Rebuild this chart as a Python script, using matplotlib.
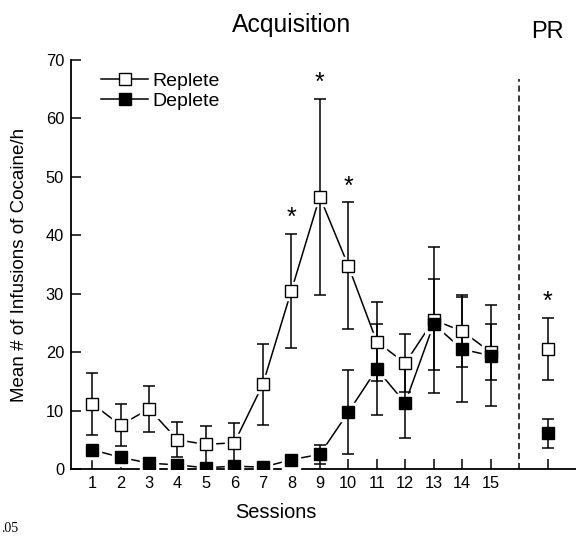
import matplotlib
matplotlib.use("Agg")
import matplotlib.pyplot as plt
import numpy as np
from matplotlib.lines import Line2D

plt.rcParams['font.family'] = ['Liberation Sans', 'DejaVu Sans']

sessions = list(range(1, 16))
session_labels = [str(s) for s in sessions]
replete_mean = [11.2, 7.5, 10.3, 5.0, 4.2, 4.5, 14.5, 30.5, 46.6, 34.8, 21.8, 18.1, 25.5, 23.6, 20.0]
replete_sem = [5.3, 3.6, 3.9, 3.0, 3.2, 3.4, 6.9, 9.8, 16.8, 10.9, 6.7, 5.0, 12.5, 6.1, 4.8]
deplete_mean = [3.3, 2.0, 1.0, 0.7, 0.2, 0.5, 0.3, 1.6, 2.5, 9.7, 17.1, 11.3, 24.8, 20.5, 19.4]
deplete_sem = [0.5, 0.4, 0.3, 0.3, 0.2, 0.3, 0.7, 0.5, 1.6, 7.2, 7.8, 6.0, 7.8, 9.0, 8.6]
pr_pos = 17
pr_replete_mean, pr_replete_sem = 20.6, 5.3
pr_deplete_mean, pr_deplete_sem = 6.1, 2.45
star_sessions = [8, 9, 10]
divider_pos = 16
yticks = [0, 10, 20, 30, 40, 50, 60, 70]

fig = plt.figure(figsize=(5.76, 5.37), dpi=100)
ax = fig.add_axes([71/576, 68/537, 505/576, 409/537])

ms = 8.4
lw = 1.1

# connecting lines
ax.plot(sessions, replete_mean, color='black', lw=lw, zorder=2)
ax.plot(sessions, deplete_mean, color='black', lw=lw, zorder=2)
# white halos to create small gaps between lines and markers
for xs, ys in [(sessions, replete_mean), (sessions, deplete_mean)]:
    ax.plot(xs, ys, ls='none', marker='s', ms=ms + 4.5, mfc='white', mec='white', zorder=3)

# error bars
for xs, ys, es in [(sessions, replete_mean, replete_sem),
                   (sessions, deplete_mean, deplete_sem),
                   ([pr_pos], [pr_replete_mean], [pr_replete_sem]),
                   ([pr_pos], [pr_deplete_mean], [pr_deplete_sem])]:
    ax.errorbar(xs, ys, yerr=es, fmt='none', ecolor='black',
                elinewidth=lw, capsize=4.3, capthick=lw, zorder=4)

# markers
ax.plot(sessions, replete_mean, ls='none', marker='s', ms=ms, mfc='white', mec='black',
        mew=1.0, zorder=5)
ax.plot([pr_pos], [pr_replete_mean], ls='none', marker='s', ms=ms, mfc='white', mec='black',
        mew=1.0, zorder=5)
ax.plot(sessions, deplete_mean, ls='none', marker='s', ms=ms, mfc='black', mec='black',
        mew=1.0, zorder=6)
ax.plot([pr_pos], [pr_deplete_mean], ls='none', marker='s', ms=ms, mfc='black', mec='black',
        mew=1.0, zorder=6)

# legend
h1 = Line2D([], [], color='black', lw=lw, marker='s', ms=ms, mfc='white', mec='black')
h2 = Line2D([], [], color='black', lw=lw, marker='s', ms=ms, mfc='black', mec='black')
leg = ax.legend([h1, h2], ['Replete', 'Deplete'], loc='upper left',
                bbox_to_anchor=(0.035, 1.0), frameon=False, fontsize=14,
                handlelength=2.4, handletextpad=0.25, labelspacing=0.1, borderpad=0.15)

# significance stars
for s in star_sessions:
    i = sessions.index(s)
    ax.text(s, replete_mean[i] + replete_sem[i] + 0.6, '*', ha='center', va='bottom',
            fontsize=18)
ax.text(pr_pos, pr_replete_mean + pr_replete_sem + 0.6, '*', ha='center', va='bottom',
        fontsize=18)

# divider
ax.plot([divider_pos, divider_pos], [0, 66.7], ls=(0, (4, 2.5)), color='black', lw=1.1,
        clip_on=False)

ax.set_xlim(0.26, 18.0)
ax.set_ylim(0, 70)
ax.set_xticks(sessions + [pr_pos])
ax.set_xticklabels(session_labels + [''])
ax.set_yticks(yticks)
ax.tick_params(direction='in', length=7.5, width=1.1, labelsize=11.8, pad=5)
for sp in ['top', 'right']:
    ax.spines[sp].set_visible(False)
for sp in ['left', 'bottom']:
    ax.spines[sp].set_linewidth(1.3)

fig.text(292/576, 1 - 25/537, 'Acquisition', ha='center', va='center', fontsize=17.8)
fig.text(547/576, 1 - 32/537, 'PR', ha='center', va='center', fontsize=17)
fig.text(20/576, 1 - 265/537, 'Mean # of Infusions of Cocaine/h', rotation=90,
         ha='center', va='center', fontsize=13.5)
fig.text(276/576, 1 - 512/537, 'Sessions', ha='center', va='center', fontsize=14.4)
fig.text(1/576, 1 - 528/537, '.05', ha='left', va='center', fontsize=10,
         family=['Liberation Serif', 'DejaVu Serif'])

fig.savefig('out.png', dpi=100)
